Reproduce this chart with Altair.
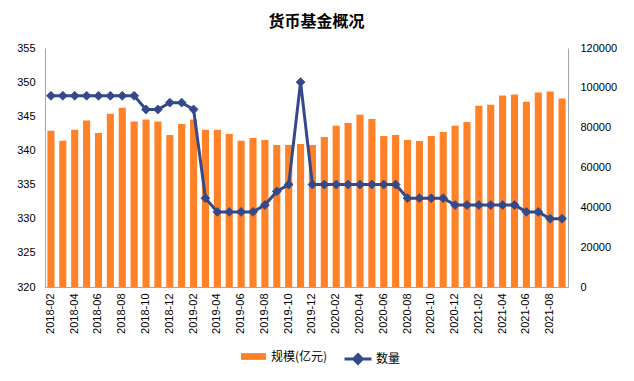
import altair as alt
import pandas as pd

months = [
    "2018-02", "2018-03", "2018-04", "2018-05", "2018-06", "2018-07", "2018-08", "2018-09",
    "2018-10", "2018-11", "2018-12", "2019-01", "2019-02", "2019-03", "2019-04", "2019-05",
    "2019-06", "2019-07", "2019-08", "2019-09", "2019-10", "2019-11", "2019-12", "2020-01",
    "2020-02", "2020-03", "2020-04", "2020-05", "2020-06", "2020-07", "2020-08", "2020-09",
    "2020-10", "2020-11", "2020-12", "2021-01", "2021-02", "2021-03", "2021-04", "2021-05",
    "2021-06", "2021-07", "2021-08", "2021-09",
]
scale_vals = [
    78400, 73400, 79000, 83600, 77300, 87000, 90000, 83100,
    84100, 83100, 76300, 81900, 84100, 79000, 79000, 76800,
    73400, 74800, 73800, 71300, 71300, 71800, 71300, 75300,
    80900, 82400, 86500, 84400, 75800, 76300, 73800, 73300,
    75800, 77800, 80900, 82900, 91000, 91500, 96100, 96600,
    93000, 97600, 98100, 94600,
]
count_vals = [
    348, 348, 348, 348, 348, 348, 348, 348,
    346, 346, 347, 347, 346, 333, 331, 331,
    331, 331, 332, 334, 335, 350, 335, 335,
    335, 335, 335, 335, 335, 335, 333, 333,
    333, 333, 332, 332, 332, 332, 332, 332,
    331, 331, 330, 330,
]
left_ticks = [320, 325, 330, 335, 340, 345, 350, 355]
right_ticks = [0, 20000, 40000, 60000, 80000, 100000, 120000]
x_label_months = months[::2]

s_name = "规模(亿元)"
c_name = "数量"
ORANGE = "#FF8128"
NAVY = "#34498A"
FONT = "Liberation Sans"
CJK = "Noto Sans CJK SC"

df = pd.DataFrame({
    "month": months,
    "scale": scale_vals,
    "count": count_vals,
    "s": s_name,
    "c": c_name,
})

x_enc = alt.X(
    "month:N",
    sort=months,
    title=None,
    scale=alt.Scale(paddingInner=0.4, paddingOuter=0.2),
    axis=alt.Axis(
        values=x_label_months, labelAngle=-90, labelFont=FONT, labelFontSize=11,
        labelColor="#000000", ticks=False, domainColor="#A6A6A6", labelPadding=6,
    ),
)

bars = alt.Chart(df).mark_bar().encode(
    x=x_enc,
    y=alt.Y(
        "scale:Q", title=None,
        scale=alt.Scale(domain=[0, 120000], nice=False),
        axis=alt.Axis(
            orient="right", values=right_ticks, format="d", grid=False, ticks=False,
            labelFont=FONT, labelFontSize=11, labelColor="#000000",
            domainColor="#A6A6A6", labelPadding=12,
        ),
    ),
    color=alt.Color(
        "s:N", title=None,
        scale=alt.Scale(domain=[s_name], range=[ORANGE]),
        legend=alt.Legend(
            orient="none", legendX=196, legendY=296,
            symbolType="M-1,-0.27H1V0.27H-1Z", symbolSize=625,
            symbolStrokeWidth=0, labelFont=CJK, labelFontSize=12,
            labelColor="#000000", labelOffset=5,
        ),
    ),
)

line = alt.Chart(df).mark_line(
    strokeWidth=3,
    point=alt.OverlayMarkDef(shape="diamond", size=80, filled=True, color=NAVY,
                             stroke="#6E82B8", strokeWidth=0.8),
).encode(
    x=x_enc,
    y=alt.Y(
        "count:Q", title=None,
        scale=alt.Scale(domain=[320, 355], nice=False, zero=False),
        axis=alt.Axis(
            orient="left", values=left_ticks, grid=False, ticks=False,
            labelFont=FONT, labelFontSize=11, labelColor="#000000",
            domainColor="#A6A6A6", labelPadding=10,
        ),
    ),
    stroke=alt.Stroke(
        "c:N", title=None,
        scale=alt.Scale(domain=[c_name], range=[NAVY]),
        legend=alt.Legend(
            orient="none", legendX=298, legendY=296,
            symbolType="M-1,0L1,0M0,-0.32L0.32,0L0,0.32L-0.32,0Z", symbolSize=729,
            symbolStrokeWidth=3, symbolFillColor=NAVY,
            labelFont=CJK, labelFontSize=12, labelColor="#000000", labelOffset=3,
        ),
    ),
)

chart = alt.layer(bars, line).resolve_scale(
    y="independent", color="independent", stroke="independent"
).properties(
    width=523,
    height=239,
    autosize=alt.AutoSizeParams(type="none"),
    padding={"left": 37, "top": 40, "right": 58, "bottom": 86},
    title=alt.TitleParams(
        "货币基金概况", font=CJK, fontSize=16, fontWeight="bold",
        color="#000000", anchor="middle", offset=12, dx=10,
    ),
).configure_view(stroke=None)

chart.save("out.html", embed_options={"renderer": "svg", "actions": False})
